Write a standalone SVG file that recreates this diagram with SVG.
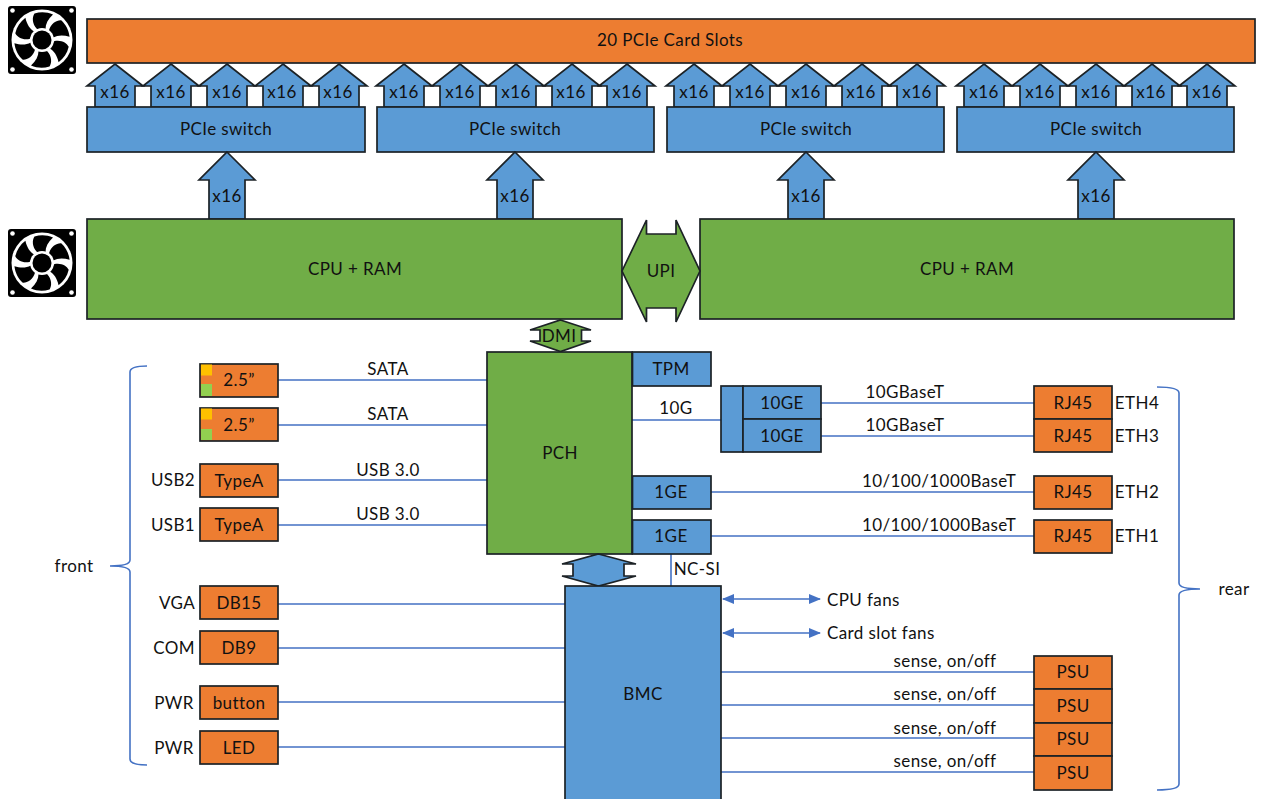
<svg xmlns="http://www.w3.org/2000/svg" xmlns:xlink="http://www.w3.org/1999/xlink" width="1266" height="799" viewBox="0 0 1266 799">
<style>
text{font-family:Lato,"Liberation Sans",sans-serif;font-size:17px;letter-spacing:.4px;fill:#111;text-anchor:middle;dominant-baseline:central}
.s{stroke:#1c2226;stroke-width:1.7}
.o{fill:#ed7d31}.b{fill:#5b9bd5}.g{fill:#70ad47}
.l{stroke:#4472c4;stroke-width:1.6;fill:none}
</style>
<defs>
<polygon id="a16" class="b s" points="0,-43 28,-21 20,-21 20,0 -20,0 -20,-21 -28,-21"/>
<polygon id="A16" class="b s" points="0,-67 28,-39 18,-39 18,0 -18,0 -18,-39 -28,-39"/>
<marker id="m" markerWidth="12" markerHeight="10" refX="11" refY="5" orient="auto-start-reverse" markerUnits="userSpaceOnUse"><path d="M0,0L12,5L0,10Z" fill="#4472c4"/></marker>
<path id="blade" d="M-5,-11C-10,-16 -10,-23 -7.500,-26.500C-1,-28.500 5,-28 11,-25.500C6,-21 3.500,-16 3.500,-11Z" fill="#000"/>
<g id="fan">
<rect width="68" height="68" rx="3" fill="#000"/>
<circle cx="34" cy="34" r="30.500" fill="#fff"/>
<g transform="translate(34 34)">
<use xlink:href="#blade"/><use xlink:href="#blade" transform="rotate(60)"/><use xlink:href="#blade" transform="rotate(120)"/><use xlink:href="#blade" transform="rotate(180)"/><use xlink:href="#blade" transform="rotate(240)"/><use xlink:href="#blade" transform="rotate(300)"/>
<circle r="12" fill="#fff"/><circle r="9.500" fill="#000"/>
</g>
<circle cx="4.500" cy="4.500" r="2.300" fill="#fff"/><circle cx="63.500" cy="4.500" r="2.300" fill="#fff"/><circle cx="4.500" cy="63.500" r="2.300" fill="#fff"/><circle cx="63.500" cy="63.500" r="2.300" fill="#fff"/>
</g>
</defs>

<g id="connectors">
<path class="l" d="M278 380H487M278 425H487M278 480H487M278 525H487M278 604H565M278 648H565M278 702H565M278 747H565"/>
<path class="l" d="M632 420H721M821 403H1034M821 436H1034M711 492H1034M711 536H1034M671 554V586"/>
<path class="l" d="M721 672H1034M721 705H1034M721 738H1034M721 772H1034"/>
<path class="l" d="M723 599H820" marker-start="url(#m)" marker-end="url(#m)"/>
<path class="l" d="M723 633H820" marker-start="url(#m)" marker-end="url(#m)"/>
<path id="brace-front" class="l" d="M147 366C136 366 130 368 130 372V560C130 564 124 566 110 566C124 566 130 568 130 572V759C130 763 136 765 147 765"/>
<path id="brace-rear" class="l" d="M1157 387C1172 387 1179 389 1179 393V583C1179 587 1186 589 1200 589C1186 589 1179 591 1179 595V784C1179 788 1172 790 1157 790"/>
</g>

<g id="fan1"><use xlink:href="#fan" x="8" y="6"/></g>
<g id="fan2"><use xlink:href="#fan" x="8" y="229"/></g>

<g id="slots"><rect class="o s" x="87" y="19" width="1168" height="44"/><text x="670" y="39">20 PCIe Card Slots</text></g>

<g id="links-x16">
<use xlink:href="#a16" x="115" y="107"/><use xlink:href="#a16" x="171" y="107"/><use xlink:href="#a16" x="227" y="107"/><use xlink:href="#a16" x="283" y="107"/><use xlink:href="#a16" x="339" y="107"/>
<use xlink:href="#a16" x="404" y="107"/><use xlink:href="#a16" x="460" y="107"/><use xlink:href="#a16" x="516" y="107"/><use xlink:href="#a16" x="572" y="107"/><use xlink:href="#a16" x="627" y="107"/>
<use xlink:href="#a16" x="694" y="107"/><use xlink:href="#a16" x="750" y="107"/><use xlink:href="#a16" x="806" y="107"/><use xlink:href="#a16" x="862" y="107"/><use xlink:href="#a16" x="917" y="107"/>
<use xlink:href="#a16" x="984" y="107"/><use xlink:href="#a16" x="1040" y="107"/><use xlink:href="#a16" x="1096" y="107"/><use xlink:href="#a16" x="1152" y="107"/><use xlink:href="#a16" x="1207" y="107"/>
<text x="115" y="91">x16</text><text x="171" y="91">x16</text><text x="227" y="91">x16</text><text x="282" y="91">x16</text><text x="338" y="91">x16</text>
<text x="404" y="91">x16</text><text x="460" y="91">x16</text><text x="516" y="91">x16</text><text x="571" y="91">x16</text><text x="627" y="91">x16</text>
<text x="694" y="91">x16</text><text x="750" y="91">x16</text><text x="806" y="91">x16</text><text x="861" y="91">x16</text><text x="917" y="91">x16</text>
<text x="984" y="91">x16</text><text x="1040" y="91">x16</text><text x="1096" y="91">x16</text><text x="1151" y="91">x16</text><text x="1207" y="91">x16</text>
</g>

<g id="switch1"><rect class="b s" x="87" y="107" width="278" height="45"/><text x="226" y="128">PCIe switch</text></g>
<g id="switch2"><rect class="b s" x="377" y="107" width="277" height="45"/><text x="515" y="128">PCIe switch</text></g>
<g id="switch3"><rect class="b s" x="667" y="107" width="277" height="45"/><text x="806" y="128">PCIe switch</text></g>
<g id="switch4"><rect class="b s" x="957" y="107" width="277" height="45"/><text x="1096" y="128">PCIe switch</text></g>

<g id="uplinks">
<use xlink:href="#A16" x="227" y="219"/><use xlink:href="#A16" x="515" y="219"/><use xlink:href="#A16" x="806" y="219"/><use xlink:href="#A16" x="1096" y="219"/>
<text x="227" y="195">x16</text><text x="515" y="195">x16</text><text x="806" y="195">x16</text><text x="1096" y="195">x16</text>
</g>

<g id="cpu1"><rect class="g s" x="87" y="219" width="535" height="100"/><text x="355" y="268">CPU + RAM</text></g>
<g id="cpu2"><rect class="g s" x="700" y="219" width="534" height="100"/><text x="967" y="268">CPU + RAM</text></g>
<g id="upi"><polygon class="g s" points="622,271 646.500,220 646.500,234 676,234 676,220 700,271 676,322 676,308 646.500,308 646.500,322"/><text x="661" y="270">UPI</text></g>
<g id="dmi"><polygon class="g s" points="560.500,320 591,330 581.500,330 581.500,341 591,341 560.500,351.500 530,341 540,341 540,330 530,330"/><text x="559" y="335">DMI</text></g>

<g id="pch"><rect class="g s" x="487" y="352" width="145" height="202"/><text x="560" y="452">PCH</text></g>
<g id="tpm"><rect class="b s" x="632.500" y="352" width="78.500" height="34"/><text x="671" y="368">TPM</text></g>
<g id="ge1"><rect class="b s" x="632.500" y="476" width="78.500" height="33"/><text x="671" y="491">1GE</text></g>
<g id="ge2"><rect class="b s" x="632.500" y="520" width="78.500" height="34"/><text x="671" y="535">1GE</text></g>
<g id="bridge"><polygon class="b s" points="598.500,554 636,564 624,564 624,576 636,576 598.500,586 562,576 573,576 573,564 562,564"/></g>
<g id="bmc"><rect class="b s" x="565" y="586" width="156" height="216"/><text x="643" y="693">BMC</text></g>

<g id="nic"><rect class="b s" x="721" y="386" width="22" height="66"/><rect class="b s" x="743" y="386" width="78" height="33"/><rect class="b s" x="743" y="419" width="78" height="33"/><text x="782" y="402">10GE</text><text x="782" y="435">10GE</text></g>

<g id="rj45-4"><rect class="o s" x="1034" y="386" width="78" height="33"/><text x="1073" y="402">RJ45</text></g>
<g id="rj45-3"><rect class="o s" x="1034" y="419" width="78" height="33"/><text x="1073" y="435">RJ45</text></g>
<g id="rj45-2"><rect class="o s" x="1034" y="476" width="78" height="33"/><text x="1073" y="491">RJ45</text></g>
<g id="rj45-1"><rect class="o s" x="1034" y="520" width="78" height="33"/><text x="1073" y="535">RJ45</text></g>
<g id="psu1"><rect class="o s" x="1034" y="656" width="78" height="33"/><text x="1073" y="671">PSU</text></g>
<g id="psu2"><rect class="o s" x="1034" y="689" width="78" height="34"/><text x="1073" y="705">PSU</text></g>
<g id="psu3"><rect class="o s" x="1034" y="723" width="78" height="33"/><text x="1073" y="738">PSU</text></g>
<g id="psu4"><rect class="o s" x="1034" y="756" width="78" height="34"/><text x="1073" y="772">PSU</text></g>

<g id="disk1"><rect class="o s" x="200" y="364" width="78" height="33"/><rect x="201" y="364.500" width="11" height="11" fill="#ffc000"/><rect x="201" y="384" width="11" height="12" fill="#92d050"/><text x="239" y="379">2.5”</text></g>
<g id="disk2"><rect class="o s" x="200" y="408" width="78" height="33"/><rect x="201" y="408.500" width="11" height="11" fill="#ffc000"/><rect x="201" y="429" width="11" height="11" fill="#92d050"/><text x="239" y="424">2.5”</text></g>
<g id="typea2"><rect class="o s" x="200" y="464" width="78" height="33"/><text x="239" y="480">TypeA</text></g>
<g id="typea1"><rect class="o s" x="200" y="508" width="78" height="33"/><text x="239" y="524">TypeA</text></g>
<g id="db15"><rect class="o s" x="200" y="586" width="78" height="33"/><text x="239" y="602">DB15</text></g>
<g id="db9"><rect class="o s" x="200" y="631" width="78" height="33"/><text x="239" y="647">DB9</text></g>
<g id="button"><rect class="o s" x="200" y="686" width="78" height="33"/><text x="239" y="702">button</text></g>
<g id="led"><rect class="o s" x="200" y="731" width="78" height="33"/><text x="239" y="747">LED</text></g>

<g id="labels">
<text x="388" y="368">SATA</text><text x="388" y="413">SATA</text><text x="388" y="469">USB 3.0</text><text x="388" y="513">USB 3.0</text>
<text x="173" y="479">USB2</text><text x="173" y="524">USB1</text><text x="177" y="602">VGA</text><text x="174" y="647">COM</text><text x="174" y="702">PWR</text><text x="174" y="747">PWR</text>
<text x="74" y="565">front</text><text x="1234" y="588">rear</text>
<text x="676" y="407">10G</text><text x="697" y="568">NC-SI</text>
<text x="905" y="391">10GBaseT</text><text x="905" y="424">10GBaseT</text><text x="939" y="480">10/100/1000BaseT</text><text x="939" y="524">10/100/1000BaseT</text>
<text x="1137" y="402">ETH4</text><text x="1137" y="435">ETH3</text><text x="1137" y="491">ETH2</text><text x="1137" y="535">ETH1</text>
<text x="827" y="599" style="text-anchor:start">CPU fans</text><text x="827" y="632" style="text-anchor:start">Card slot fans</text>
<text x="945" y="660">sense, on/off</text><text x="945" y="693">sense, on/off</text><text x="945" y="727">sense, on/off</text><text x="945" y="760">sense, on/off</text>
</g>
</svg>
